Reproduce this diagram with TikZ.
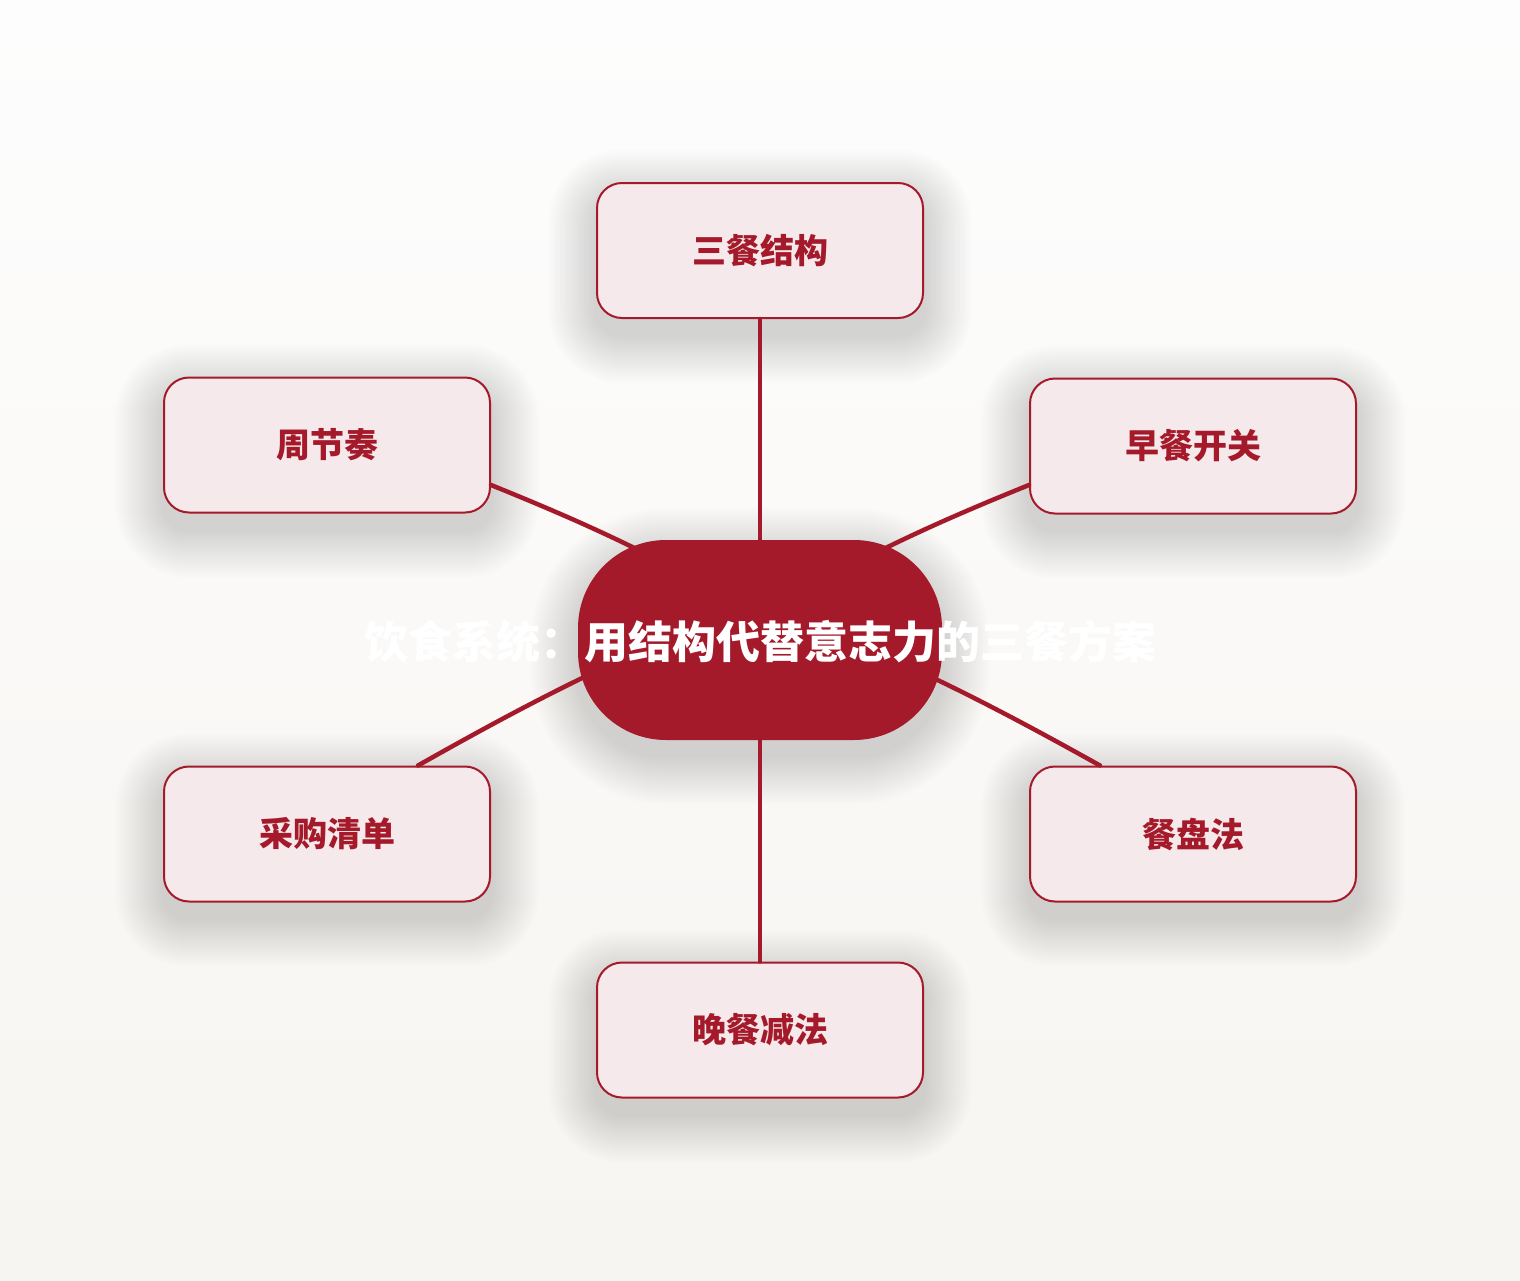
\documentclass[tikz,border=0pt]{standalone}
\usepackage{fontspec}
\setmainfont{Noto Sans CJK SC}
\usetikzlibrary{backgrounds}
\definecolor{mainred}{HTML}{A51A2A}
\definecolor{boxfill}{HTML}{F5E9EB}
\definecolor{bgtop}{HTML}{FDFDFD}
\definecolor{bgbot}{HTML}{F7F5F1}
\tikzset{
  leaf/.style={draw=mainred, line width=2pt, fill=boxfill, rounded corners=25pt,
    minimum width=326pt, minimum height=135pt, inner sep=0pt,
    text=mainred, font=\fontsize{34}{40}\selectfont\bfseries},
  hub/.style={fill=mainred, rounded corners=88pt, minimum width=364pt, minimum height=200pt, inner sep=0pt},
  hubtext/.style={text=white, font=\fontsize{44}{50}\selectfont\bfseries, inner sep=0pt},
  link/.style={draw=mainred, line width=4.5pt, line cap=round},
  shadowlayer/.style={fill=black, fill opacity=0.0068}
}
\newcommand\softshadow[2]{%
  \foreach \k in {1,...,20}{%
    \pgfmathsetmacro\s{\k*2.4}%
    \pgfmathsetmacro\rr{#2+\s}%
    \fill[shadowlayer, rounded corners=\rr pt]
      ([shift={(-\s,-\s+16)}]#1.north west) rectangle ([shift={(\s,\s+16)}]#1.south east);
  }%
}
\begin{document}
\begin{tikzpicture}[x=1pt,y=-1pt]
\useasboundingbox (0,0) rectangle (1520,1280);
% leaves
\node[leaf] (t)  at (760,250.5) {\raisebox{-2pt}{三餐结构}};
\node[leaf] (ur) at (1193,446)  {\raisebox{-2pt}{早餐开关}};
\node[leaf] (lr) at (1193,834)  {\raisebox{-2pt}{餐盘法}};
\node[leaf] (b)  at (760,1030)  {\raisebox{-2pt}{晚餐减法}};
\node[leaf] (ll) at (327,834)   {\raisebox{-2pt}{采购清单}};
\node[leaf] (ul) at (327,445)   {\raisebox{-2pt}{周节奏}};
\coordinate (c) at (760,640);
% links
\draw[link] (c) -- (t.south);
\draw[link] (c) -- (b.north);
\draw[link] ([shift={(40,-48)}]c) to[bend left=3] ([yshift=-39pt]ur.west);
\draw[link] ([shift={(-40,-48)}]c) to[bend right=3] ([yshift=-40pt]ul.east);
\draw[link] ([shift={(40,-22)}]c) to[bend left=3] ([xshift=-93pt]lr.north);
\draw[link] ([shift={(-40,-25)}]c) to[bend right=3] ([xshift=91pt]ll.north);
% hub
\node[hub] (hub) at (c) {};
\node[hubtext] (title) at (760,642) {饮食系统：用结构代替意志力的三餐方案};
% background and shadows
\begin{pgfonlayer}{background}
  \fill[top color=bgtop, bottom color=bgbot] (0,0) rectangle (1520,1280);
  \softshadow{t}{25}
  \softshadow{ur}{25}
  \softshadow{lr}{25}
  \softshadow{b}{25}
  \softshadow{ll}{25}
  \softshadow{ul}{25}
  \softshadow{hub}{88}
\end{pgfonlayer}
\end{tikzpicture}
\end{document}
